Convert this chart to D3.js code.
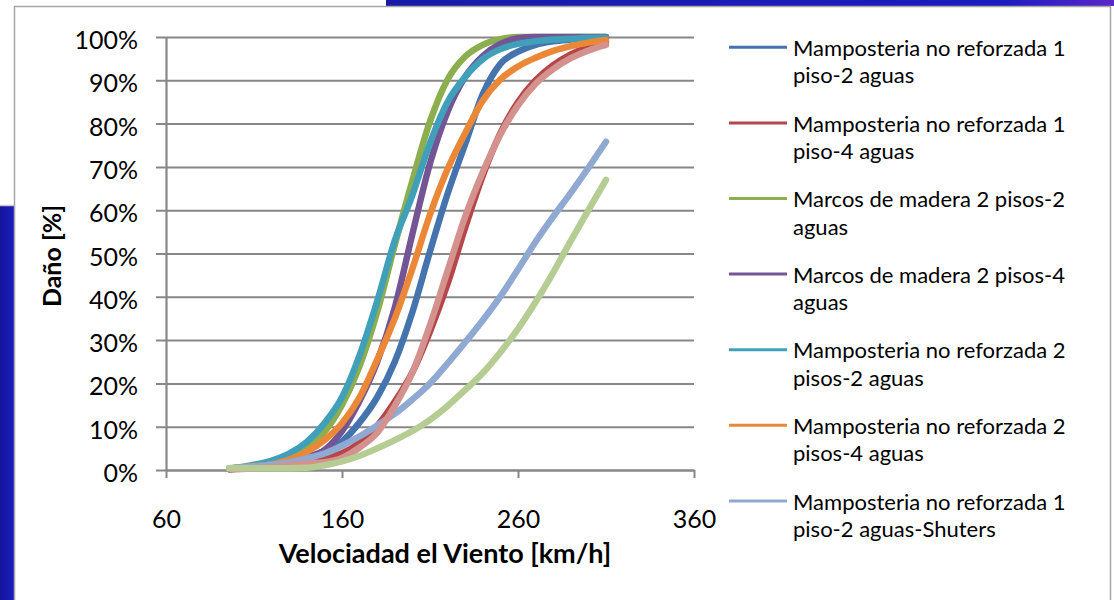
<!DOCTYPE html>
<html><head><meta charset="utf-8">
<script src="https://cdn.jsdelivr.net/npm/d3@7"></script>
<style>
body{margin:0;background:#fff}
svg{display:block}
text{font-family:Lato,"Open Sans",sans-serif;fill:#000}
</style>
</head><body>
<svg id="c" width="1114" height="600"></svg>
<script>
// ---- data ----
const speeds = [96,100,110,120,130,140,150,160,170,180,190,200,210,220,230,240,250,260,270,280,290,300,310];
const mampNR1p2a   = [0.2,0.3,0.6,1.0,1.7,2.8,4.4,6.6,11.0,16.8,25.0,36.5,50.5,63.8,75.3,86.8,93.8,96.6,98.2,99.0,99.4,99.7,99.9];
const mampNR1p4a   = [0.2,0.3,0.6,0.9,1.3,1.7,2.6,3.9,6.3,10.2,15.8,22.6,32.0,43.0,56.0,68.0,77.8,85.0,90.0,93.5,96.0,97.7,98.8];
const marcos2p2a   = [0.3,0.4,0.9,1.7,3.0,5.2,8.8,15.0,24.0,36.5,52.0,66.8,80.5,90.2,95.5,98.2,99.5,100,100,100,100,100,100];
const marcos2p4a   = [0.2,0.3,0.6,1.1,1.9,3.0,4.6,9.0,16.0,25.0,37.5,54.5,70.8,82.8,90.8,95.6,98.4,99.7,100,100,100,100,100];
const mampNR2p2a   = [0.3,0.5,1.2,2.2,3.8,6.5,10.8,16.8,26.5,39.0,53.0,63.5,75.5,85.0,90.8,94.9,97.2,98.4,99.0,99.4,99.6,99.8,99.9];
const mampNR2p4a   = [0.3,0.5,0.9,1.3,2.4,4.2,6.9,10.8,16.8,25.5,35.0,46.5,59.0,69.5,77.8,85.3,90.2,93.2,95.2,96.8,97.9,98.7,99.3];
const mampNR1p2aSh = [0.4,0.5,0.8,1.2,1.8,2.7,3.8,5.6,7.8,10.3,13.0,16.3,20.0,24.6,29.5,34.6,40.1,46.3,52.7,58.5,64.0,69.8,75.8];
const serie8       = [0.2,0.2,0.4,0.7,1.1,1.5,1.8,2.8,5.2,8.6,14.8,22.5,33.5,46.0,58.5,68.8,77.5,84.2,89.2,92.6,95.1,96.9,98.2];
const serie9       = [0.4,0.4,0.4,0.4,0.4,0.5,1.1,2.0,3.3,5.0,6.9,9.0,11.6,14.8,18.5,22.4,27.2,32.6,38.8,45.6,52.9,60.0,67.0];

const seriesValues = [mampNR1p2a, mampNR1p4a, marcos2p2a, marcos2p4a, mampNR2p2a, mampNR2p4a, mampNR1p2aSh, serie8, serie9];
const legendLabels = [
  ["Mamposteria no reforzada 1","piso-2 aguas"],
  ["Mamposteria no reforzada 1","piso-4 aguas"],
  ["Marcos de madera 2 pisos-2","aguas"],
  ["Marcos de madera 2 pisos-4","aguas"],
  ["Mamposteria no reforzada 2","pisos-2 aguas"],
  ["Mamposteria no reforzada 2","pisos-4 aguas"],
  ["Mamposteria no reforzada 1","piso-2 aguas-Shuters"]
];
const colors = ["#4473ad","#b5474a","#8dae4e","#735595","#40a0b9","#ea8838","#8fa9d2","#d4928f","#b5cc93"];
const xTicks = [60,160,260,360];
const yTicks = [0,0.1,0.2,0.3,0.4,0.5,0.6,0.7,0.8,0.9,1.0];
const xTitle = "Velociadad el Viento [km/h]";
const yTitle = "Daño [%]";

// ---- drawing ----
const svg = d3.select("#c");
const defs = svg.append("defs");
const gTop = defs.append("linearGradient").attr("id","gTop").attr("x1","0").attr("x2","1");
gTop.append("stop").attr("offset","0").attr("stop-color","#1a1aa8");
gTop.append("stop").attr("offset","0.85").attr("stop-color","#1c1cc0");
gTop.append("stop").attr("offset","1").attr("stop-color","#5a28c8");
const gLeft = defs.append("linearGradient").attr("id","gLeft").attr("x1","0").attr("x2","1");
gLeft.append("stop").attr("offset","0").attr("stop-color","#14149a");
gLeft.append("stop").attr("offset","1").attr("stop-color","#1c1cc0");

// slide decorations
svg.append("rect").attr("x",386).attr("y",0).attr("width",728).attr("height",6).attr("fill","url(#gTop)");
svg.append("rect").attr("x",0).attr("y",206).attr("width",14).attr("height",394).attr("fill","url(#gLeft)");
svg.append("line").attr("x1",0).attr("x2",14).attr("y1",205.5).attr("y2",205.5).attr("stroke","#c8c8c8").attr("stroke-width",1.5);
// chart frame
svg.append("path").attr("d","M14.5,600 V6.5 H1110.5 V600").attr("fill","#fff").attr("stroke","#a6a6a6").attr("stroke-width",1.5);

const x = d3.scaleLinear().domain([60,360]).range([166,694]);
const y = d3.scaleLinear().domain([0,1]).range([470,37]);
const W = 694-166;

// Y axis with gridlines
const gy = svg.append("g").attr("transform","translate(166,0)")
  .call(d3.axisLeft(y).tickValues(yTicks).tickSize(10).tickSizeOuter(0).tickPadding(18).tickFormat(d3.format(".0%")));
gy.selectAll(".tick line").attr("x2", W).attr("x1",-10).attr("stroke","#878787").attr("stroke-width",2);
gy.selectAll(".tick text").attr("font-size",25).attr("font-family","Lato").attr("dy","0.46em").attr("fill","#000");
gy.select(".domain").attr("stroke","#878787").attr("stroke-width",2.2);

// X axis
const gx = svg.append("g").attr("transform","translate(0,470)")
  .call(d3.axisBottom(x).tickValues(xTicks).tickSize(8).tickSizeOuter(0).tickPadding(32).tickFormat(d3.format("d")));
gx.selectAll(".tick line").attr("stroke","#878787").attr("stroke-width",2);
gx.selectAll(".tick text").attr("font-size",25).attr("font-family","Lato").attr("fill","#000");
gx.select(".domain").attr("stroke","#878787").attr("stroke-width",2.2);

// titles
svg.append("text").attr("x",445).attr("y",563).attr("text-anchor","middle")
  .attr("font-size",27).attr("font-weight","bold").text(xTitle);
svg.append("text").attr("transform","translate(61,256) rotate(-90)").attr("text-anchor","middle")
  .attr("font-size",25).attr("font-weight","bold").text(yTitle);

// lines
const line = d3.line().x((d,i)=>x(speeds[i])).y(d=>y(d/100)).curve(d3.curveMonotoneX);
svg.append("g").selectAll("path").data(seriesValues).join("path")
  .attr("d", d=>line(d)).attr("fill","none")
  .attr("stroke",(d,i)=>colors[i]).attr("stroke-width",6.5)
  .attr("stroke-linecap","round").attr("stroke-linejoin","round");

// legend
const lg = svg.append("g").selectAll("g").data(legendLabels).join("g")
  .attr("transform",(d,i)=>`translate(729,${47.3+75.6*i})`);
lg.append("line").attr("x1",0).attr("x2",58).attr("stroke",(d,i)=>colors[i]).attr("stroke-width",3);
lg.append("text").attr("x",64).attr("y",8.7).attr("font-size",22).text(d=>d[0]);
lg.append("text").attr("x",64).attr("y",36).attr("font-size",22).text(d=>d[1]);
</script>
</body></html>
